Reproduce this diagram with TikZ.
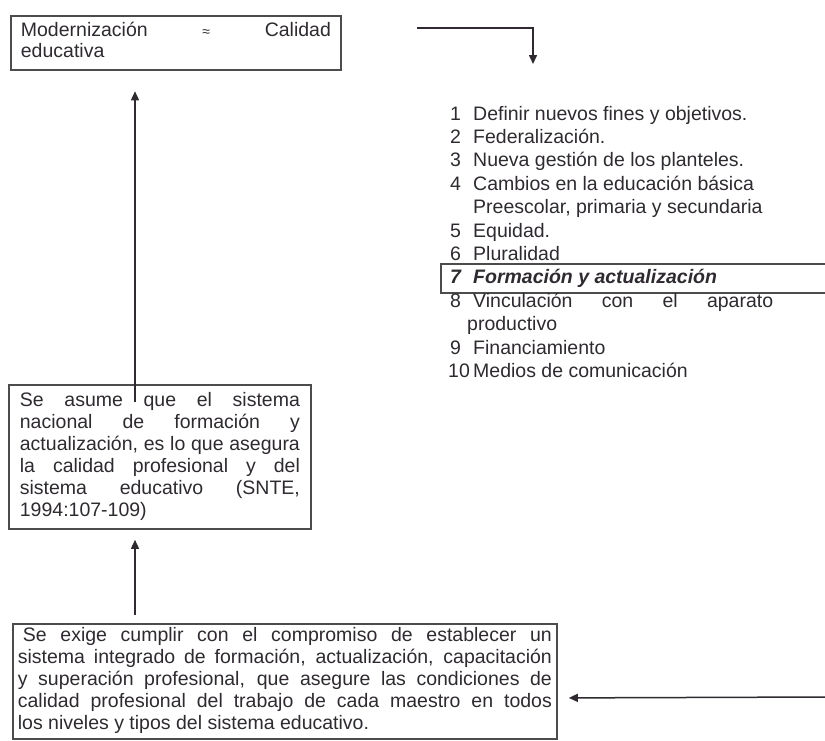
\documentclass[tikz,border=0pt]{standalone}
\usepackage{fontspec}
\setmainfont{Liberation Sans}
\usetikzlibrary{arrows.meta,calc}
\definecolor{ink}{HTML}{2E2A30}
\definecolor{rule}{HTML}{4C4C4C}
\hyphenpenalty=10000
\exhyphenpenalty=10000
% one line of a justified block, spread over the given width
\newcommand\spreadline[2]{{\spaceskip=0pt\xspaceskip=0pt\makebox[#1][s]{#2}}}
\begin{document}
\begin{tikzpicture}[x=1pt,y=-1pt,
  every node/.style={text=ink},
  txt/.style={font=\fontsize{19.5}{22}\selectfont},
  frame/.style={draw=rule, line width=1.8pt, txt, align=justify, inner ysep=6pt},
  conn/.style={draw=ink, line width=1.5pt},
  arr/.style={conn, -{Triangle[length=9pt,width=8pt]}},
  listnum/.style={txt, anchor=base west, inner sep=0pt},
  listtext/.style={txt, anchor=base west, inner sep=0pt},
  strong/.style={font=\fontsize{19.5}{22}\selectfont\bfseries\itshape}]

\useasboundingbox (0,0) rectangle (825,740);

% headline box
\node[frame, anchor=north west, text width=310pt, inner xsep=10pt, inner ysep=6.5pt,
      font=\fontsize{19.5}{20}\selectfont] (top) at (10,15)
  {\spreadline{310pt}{\strut Modernización {\fontsize{14}{14}\selectfont ≈} Calidad}\\
   educativa\strut};

% list of the reform lines (baseline of line k)
\def\yl#1{113+23.4*#1+7}
\node[listnum] (n1) at (450,{\yl{0}}) {1};
\node[listtext] (t1) at (473,{\yl{0}}) {Definir nuevos fines y objetivos.};
\node[listnum] (n2) at (450,{\yl{1}}) {2};
\node[listtext] (t2) at (473,{\yl{1}}) {Federalización.};
\node[listnum] (n3) at (450,{\yl{2}}) {3};
\node[listtext] (t3) at (473,{\yl{2}}) {Nueva gestión de los planteles.};
\node[listnum] (n4) at (450,{\yl{3}}) {4};
\node[listtext] (t4) at (473,{\yl{3}}) {Cambios en la educación básica};
\node[listtext] (t4b) at (473,{\yl{4}}) {Preescolar, primaria y secundaria};
\node[listnum] (n5) at (450,{\yl{5}}) {5};
\node[listtext] (t5) at (473,{\yl{5}}) {Equidad.};
\node[listnum] (n6) at (450,{\yl{6}}) {6};
\node[listtext] (t6) at (473,{\yl{6}}) {Pluralidad};
% highlighted item, framed up to the right edge
\node[draw=rule, line width=1.8pt, anchor=north west, minimum width=392pt,
      minimum height=29pt, inner sep=0pt] (sel) at (440,263) {};
\node[listnum, strong] (n7) at (450,{\yl{7}}) {7};
\node[listtext, strong] (t7) at (473,{\yl{7}}) {Formación y actualización};
\node[listnum] (n8) at (450,{\yl{8}}) {8};
\node[listtext] (t8) at (473,{\yl{8}}) {\spreadline{300pt}{Vinculación con el aparato}};
\node[listtext] (t8b) at (467,{\yl{9}}) {productivo};
\node[listnum] (n9) at (450,{\yl{10}}) {9};
\node[listtext] (t9) at (473,{\yl{10}}) {Financiamiento};
\node[listnum] (n10) at (448,{\yl{11}}) {10};
\node[listtext] (t10) at (473,{\yl{11}}) {Medios de comunicación};

% middle box
\node[frame, anchor=north west, text width=280pt, inner xsep=11pt, inner ysep=6pt] (mid) at (8,384)
  {\spreadline{280pt}{\strut Se asume que el sistema}\\
   \spreadline{280pt}{nacional de formación y}\\
   \spreadline{280pt}{actualización, es lo que asegura}\\
   \spreadline{280pt}{la calidad profesional y del}\\
   \spreadline{280pt}{sistema educativo (SNTE,}\\
   1994:107-109)\strut};

% bottom box
\node[frame, anchor=north west, text width=534pt, inner xsep=5pt, inner ysep=2.5pt] (bot) at (12,623)
  {\spreadline{534pt}{\strut\hspace*{5pt}Se exige cumplir con el compromiso de establecer un}\\
   \spreadline{534pt}{sistema integrado de formación, actualización, capacitación}\\
   \spreadline{534pt}{y superación profesional, que asegure las condiciones de}\\
   \spreadline{534pt}{calidad profesional del trabajo de cada maestro en todos}\\
   los niveles y tipos del sistema educativo.\strut};

% connectors
\coordinate (listin) at (533,64);
\coordinate (edge) at (825,697);
\draw[arr] ($(top.north east)+(75,13)$) -| (listin);
\draw[arr] ($(mid.north west)+(127,18)$) -- ($(top.south west)+(125,20)$);
\draw[arr] ($(bot.north west)+(123,-8)$) -- ($(mid.south west)+(127,10)$);
\draw[arr] (edge) -- ($(bot.east)+(11,16.5)$);
\end{tikzpicture}
\end{document}
